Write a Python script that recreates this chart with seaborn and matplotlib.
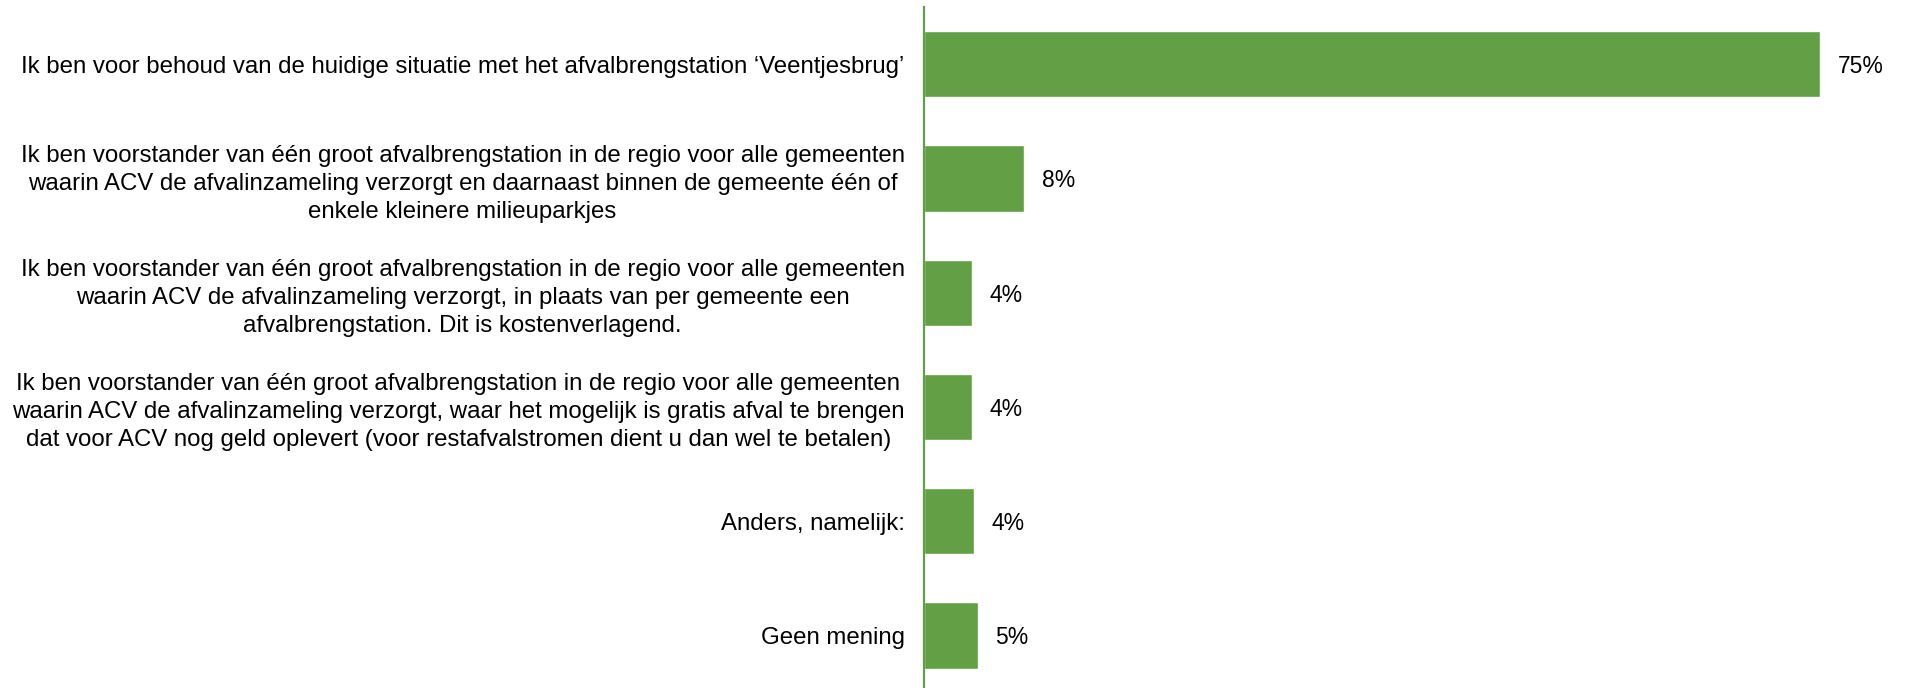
import matplotlib
matplotlib.use("Agg")
import matplotlib.pyplot as plt
import seaborn as sns
import pandas as pd

# Antwoordcategorieën en percentages
categories = [
    "Ik ben voor behoud van de huidige situatie met het afvalbrengstation \u2018Veentjesbrug\u2019",
    "Ik ben voorstander van één groot afvalbrengstation in de regio voor alle gemeenten\n"
    "waarin ACV de afvalinzameling verzorgt en daarnaast binnen de gemeente één of\n"
    "enkele kleinere milieuparkjes",
    "Ik ben voorstander van één groot afvalbrengstation in de regio voor alle gemeenten\n"
    "waarin ACV de afvalinzameling verzorgt, in plaats van per gemeente een\n"
    "afvalbrengstation. Dit is kostenverlagend.",
    "Ik ben voorstander van één groot afvalbrengstation in de regio voor alle gemeenten\n"
    "waarin ACV de afvalinzameling verzorgt, waar het mogelijk is gratis afval te brengen\n"
    "dat voor ACV nog geld oplevert (voor restafvalstromen dient u dan wel te betalen)",
    "Anders, namelijk:",
    "Geen mening",
]
values = [75.0, 8.4, 4.0, 4.0, 4.2, 4.5]
value_labels = ["75%", "8%", "4%", "4%", "4%", "5%"]

green = "#63a045"

sns.set_style("white")
plt.rcParams["font.family"] = ["Liberation Sans", "DejaVu Sans"]

df = pd.DataFrame({"antwoord": categories, "pct": values})

fig = plt.figure(figsize=(19.05, 6.88), dpi=100)
ax = fig.add_axes([924 / 1905, 0.0, 956 / 1905, 1 - 7 / 688])

sns.barplot(data=df, x="pct", y="antwoord", color=green, width=0.58,
            saturation=1, ax=ax)

for i, (v, lab) in enumerate(zip(values, value_labels)):
    ax.text(v + 1.45, i, lab, va="center_baseline", ha="left", fontsize=16.5,
            color="black")

ax.set_xlim(0, 80)
ax.set_ylim(5.46, -0.5)
ax.set_xlabel("")
ax.set_ylabel("")
ax.set_xticks([])
ax.tick_params(axis="y", length=0, pad=14, labelsize=17.3, labelcolor="black")
for t in ax.get_yticklabels():
    t.set_multialignment("center")
    t.set_linespacing(1.35)

for side in ["top", "right", "bottom"]:
    ax.spines[side].set_visible(False)
ax.spines["left"].set_color(green)
ax.spines["left"].set_linewidth(1.6)

fig.savefig("out.png", dpi=100)
